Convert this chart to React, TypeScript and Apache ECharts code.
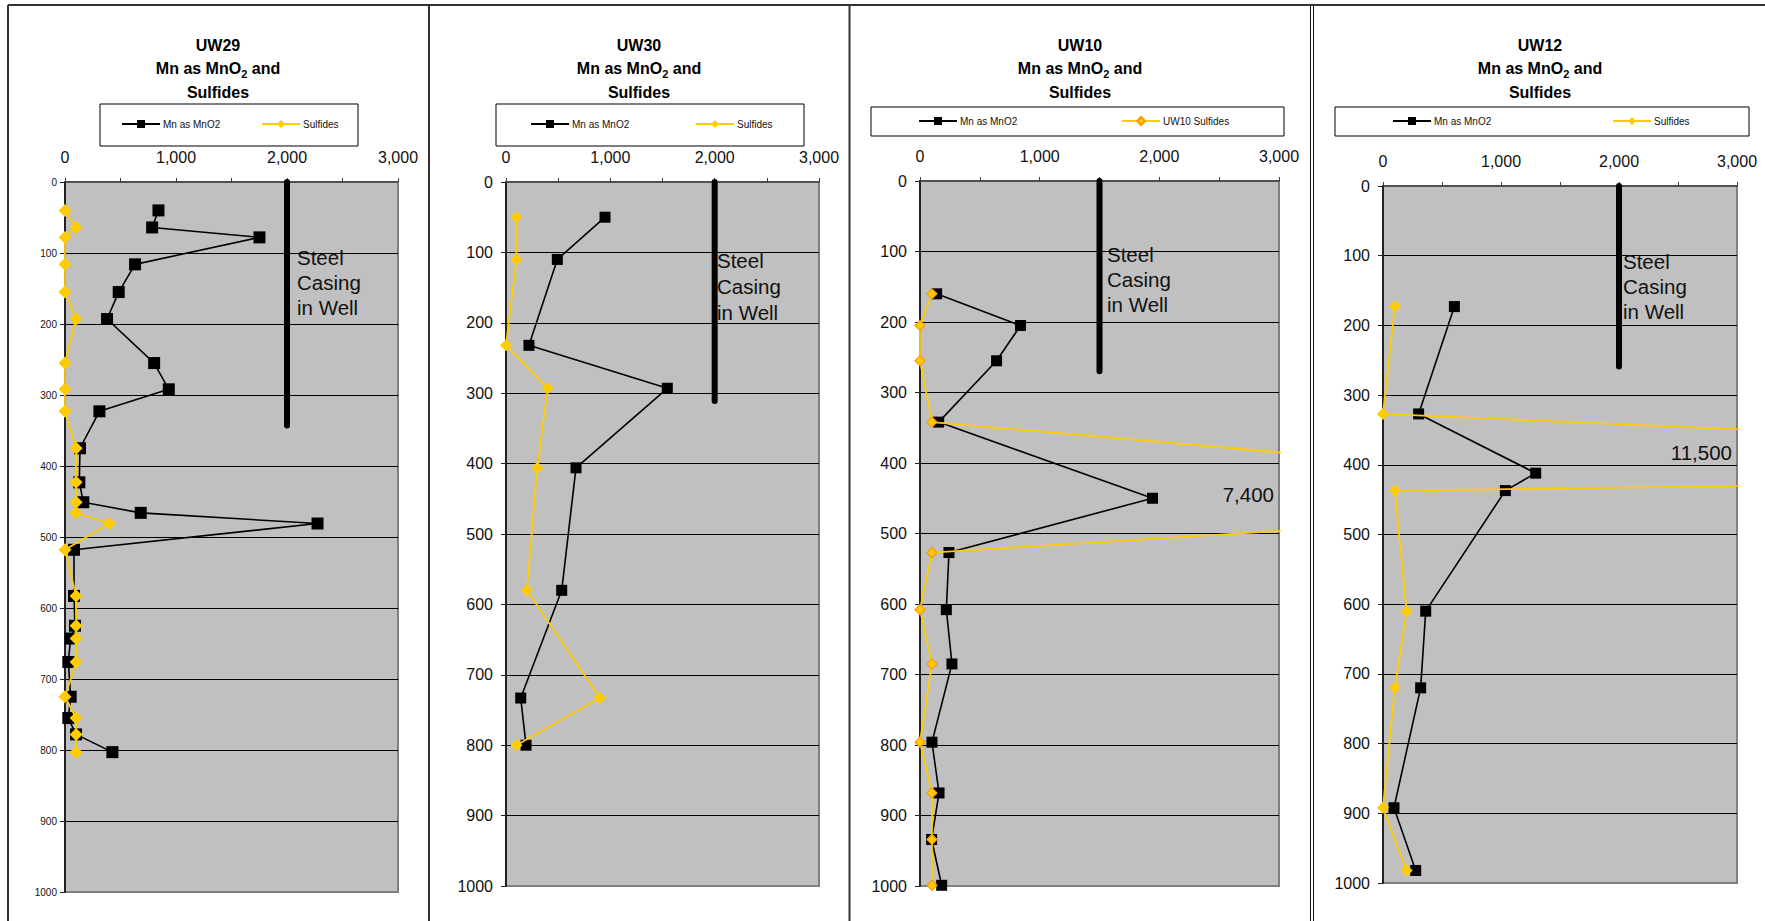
import React, { useEffect, useRef } from 'react';
import * as echarts from 'echarts';

// ---------- DATA ----------
const xTickLabels = ['0', '1,000', '2,000', '3,000'];
const panelTitles = ['UW29', 'UW30', 'UW10', 'UW12'];
const mnName = 'Mn as MnO2';
const sulfNames = ['Sulfides', 'Sulfides', 'UW10 Sulfides', 'Sulfides'];

const uw29Depth = [40, 64, 78, 116, 155, 193, 255, 292, 323, 375, 423, 451, 466, 481, 518, 583, 625, 643, 676, 725, 755, 778, 803];
const uw29Mn = [842, 785, 1752, 631, 484, 379, 803, 935, 310, 135, 129, 165, 682, 2275, 81, 81, 90, 51, 30, 51, 30, 99, 427];
const uw29Sulfides = [0, 100, 0, 0, 0, 100, 0, 0, 0, 100, 100, 100, 100, 400, 0, 100, 100, 100, 100, 0, 100, 100, 100];

const uw30Depth = [50, 110, 232, 293, 406, 580, 733, 800];
const uw30Mn = [949, 492, 220, 1546, 671, 534, 141, 192];
const uw30Sulfides = [100, 100, 0, 400, 300, 200, 900, 100];

const uw10Depth = [160, 205, 255, 342, 450, 527, 608, 685, 796, 868, 934, 999];
const uw10Mn = [139, 840, 640, 156, 1943, 242, 220, 267, 100, 159, 97, 181];
const uw10Sulfides = [100, 0, 0, 100, 7400, 100, 0, 100, 0, 100, 100, 100];

const uw12Depth = [173, 327, 412, 437, 610, 720, 892, 982];
const uw12Mn = [605, 302, 1294, 1037, 362, 319, 93, 277];
const uw12Sulfides = [100, 0, 11500, 100, 200, 100, 0, 200];

const casingValue = [2000, 2000, 1500, 2000];
const casingBottom = [343, 311, 270, 259];

const peakLabels = ['', '', '7,400', '11,500'];

// ---------- LAYOUT ----------
const FONT = '"Liberation Sans", Arial, Helvetica, sans-serif';

const layouts = [
  { grid: { left: 65, top: 182, width: 333, height: 710 }, titleX: 218, box: [100, 104, 258, 42], legY: 124, mnX: 121, sulfX: 261, yFont: 10, yMargin: 8, casingText: [297, 245, 25], mnSize: 12, sulfSize: 13, sulfBorder: '#FFCC00', peak: [0, 0] },
  { grid: { left: 506, top: 182, width: 313, height: 704 }, titleX: 639, box: [496, 104, 308, 42], legY: 124, mnX: 530, sulfX: 695, yFont: 16, yMargin: 13, casingText: [717, 247, 26], mnSize: 11, sulfSize: 12, sulfBorder: '#FFCC00', peak: [0, 0] },
  { grid: { left: 920, top: 181, width: 359, height: 705 }, titleX: 1080, box: [871, 107, 413, 29], legY: 121, mnX: 918, sulfX: 1121, yFont: 16, yMargin: 13, casingText: [1107, 242, 25], mnSize: 11, sulfSize: 10, sulfBorder: '#FF9900', peak: [1274, 494] },
  { grid: { left: 1383, top: 186, width: 354, height: 697 }, titleX: 1540, box: [1335, 107, 414, 29], legY: 121, mnX: 1392, sulfX: 1612, yFont: 16, yMargin: 13, casingText: [1623, 249, 25], mnSize: 11, sulfSize: 12, sulfBorder: '#FFCC00', peak: [1732, 452] },
];

const panelData = [
  { depth: uw29Depth, mn: uw29Mn, sulf: uw29Sulfides },
  { depth: uw30Depth, mn: uw30Mn, sulf: uw30Sulfides },
  { depth: uw10Depth, mn: uw10Mn, sulf: uw10Sulfides },
  { depth: uw12Depth, mn: uw12Mn, sulf: uw12Sulfides },
];

function buildOption() {
  const grids: any[] = [];
  const xAxes: any[] = [];
  const yAxes: any[] = [];
  const series: any[] = [];
  const legends: any[] = [];
  const graphics: any[] = [];

  // frame lines
  const frameStyle = { stroke: '#333', lineWidth: 2 };
  graphics.push({ type: 'line', shape: { x1: 8, y1: 5, x2: 1765, y2: 5 }, style: frameStyle, silent: true });
  [8, 429, 849.5].forEach((x) =>
    graphics.push({ type: 'line', shape: { x1: x, y1: 5, x2: x, y2: 921 }, style: frameStyle, silent: true })
  );
  [1310.5, 1313.5].forEach((x) =>
    graphics.push({ type: 'line', shape: { x1: x, y1: 5, x2: x, y2: 921 }, style: { stroke: '#111', lineWidth: 1 }, silent: true })
  );

  layouts.forEach((L, i) => {
    const d = panelData[i];
    grids.push({
      ...L.grid,
      show: true,
      backgroundColor: '#C0C0C0',
      borderColor: '#808080',
      borderWidth: 2,
      containLabel: false,
    });
    xAxes.push({
      type: 'value',
      gridIndex: i,
      position: 'top',
      min: 0,
      max: 3000,
      interval: 500,
      axisLine: { show: true, onZero: false, lineStyle: { color: '#404040', width: 1.5 } },
      axisTick: { show: true, inside: false, length: 4, lineStyle: { color: '#404040', width: 1 } },
      axisLabel: {
        margin: 17,
        fontSize: 16,
        fontFamily: FONT,
        color: '#111',
        formatter: (v: number) => (v % 1000 === 0 ? xTickLabels[v / 1000] : ''),
      },
      splitLine: { show: false },
    });
    yAxes.push({
      type: 'value',
      gridIndex: i,
      inverse: true,
      min: 0,
      max: 1000,
      interval: 100,
      axisLine: { show: true, onZero: false, lineStyle: { color: '#222', width: 2 } },
      axisTick: { show: true, inside: false, length: 5, lineStyle: { color: '#222', width: 1 } },
      axisLabel: {
        margin: L.yMargin,
        fontSize: L.yFont,
        fontFamily: FONT,
        color: '#111',
        formatter: (v: number) => String(v),
      },
      splitLine: { show: true, showMinLine: false, showMaxLine: false, lineStyle: { color: '#000', width: 1 } },
    });

    // steel casing
    series.push({
      name: 'casing' + i,
      type: 'line',
      xAxisIndex: i,
      yAxisIndex: i,
      data: [
        [casingValue[i], 0],
        [casingValue[i], casingBottom[i]],
      ],
      symbol: 'none',
      lineStyle: { color: '#000', width: 6, cap: 'round' },
      z: 2,
      silent: true,
    });
    series.push({
      name: mnName,
      type: 'line',
      xAxisIndex: i,
      yAxisIndex: i,
      data: d.mn.map((v, k) => [v, d.depth[k]]),
      symbol: 'rect',
      symbolSize: L.mnSize,
      itemStyle: { color: '#000' },
      lineStyle: { color: '#000', width: 1.6 },
      clip: true,
      z: 3,
    });
    series.push({
      name: sulfNames[i],
      type: 'line',
      xAxisIndex: i,
      yAxisIndex: i,
      data: d.sulf.map((v, k) => [v, d.depth[k]]),
      symbol: 'diamond',
      symbolSize: L.sulfSize,
      itemStyle: { color: '#FFCC00', borderColor: L.sulfBorder, borderWidth: L.sulfBorder === '#FFCC00' ? 0 : 1.2 },
      lineStyle: { color: '#FFCC00', width: 1.8 },
      clip: true,
      z: 4,
    });

    // legend box
    graphics.push({
      type: 'rect',
      shape: { x: L.box[0], y: L.box[1], width: L.box[2], height: L.box[3] },
      style: { fill: '#fff', stroke: '#000', lineWidth: 1 },
      z: 0,
      silent: true,
    });
    const legBase = {
      orient: 'horizontal',
      padding: 0,
      itemWidth: 38,
      itemHeight: 10,
      itemGap: 0,
      selectedMode: false,
      top: L.legY - 5,
      textStyle: { fontSize: 10, fontFamily: FONT, color: '#111', lineHeight: 10, padding: [0, 0, 0, -2] },
    };
    legends.push({ ...legBase, left: L.mnX, data: [mnName] });
    legends.push({ ...legBase, left: L.sulfX, data: [sulfNames[i]] });

    // titles
    const tStyle = { fontSize: 16, fontWeight: 'bold', fontFamily: FONT, fill: '#000' };
    graphics.push({
      type: 'text',
      x: L.titleX,
      y: 45,
      style: { ...tStyle, text: panelTitles[i], textAlign: 'center', align: 'center', textVerticalAlign: 'middle', verticalAlign: 'middle' },
      silent: true,
    });
    graphics.push({
      type: 'text',
      x: L.titleX,
      y: 68,
      style: {
        text: '{a|Mn as MnO}{b|2}{a| and}',
        textAlign: 'center',
        align: 'center',
        textVerticalAlign: 'middle',
        verticalAlign: 'middle',
        rich: {
          a: { fontSize: 16, fontWeight: 'bold', fontFamily: FONT, fill: '#000', color: '#000', lineHeight: 22 },
          b: { fontSize: 11, fontWeight: 'bold', fontFamily: FONT, fill: '#000', color: '#000', lineHeight: 14, verticalAlign: 'bottom' },
        },
      },
      silent: true,
    });
    graphics.push({
      type: 'text',
      x: L.titleX,
      y: 92,
      style: { ...tStyle, text: 'Sulfides', textAlign: 'center', align: 'center', textVerticalAlign: 'middle', verticalAlign: 'middle' },
      silent: true,
    });

    // casing label
    graphics.push({
      type: 'text',
      x: L.casingText[0],
      y: L.casingText[1],
      style: {
        text: 'Steel\nCasing\nin Well',
        fontSize: 20.5,
        fontFamily: FONT,
        fill: '#111',
        lineHeight: L.casingText[2],
        textAlign: 'left',
        align: 'left',
        textVerticalAlign: 'top',
        verticalAlign: 'top',
      },
      z: 10,
      silent: true,
    });

    if (peakLabels[i]) {
      graphics.push({
        type: 'text',
        x: L.peak[0],
        y: L.peak[1],
        style: {
          text: peakLabels[i],
          fontSize: 20.5,
          fontFamily: FONT,
          fill: '#111',
          textAlign: 'right',
          align: 'right',
          textVerticalAlign: 'middle',
          verticalAlign: 'middle',
        },
        z: 10,
        silent: true,
      });
    }
  });

  return {
    animation: false,
    backgroundColor: '#fff',
    grid: grids,
    xAxis: xAxes,
    yAxis: yAxes,
    legend: legends,
    series,
    graphic: { elements: graphics },
  };
}

export default function App() {
  const ref = useRef<HTMLDivElement>(null);
  useEffect(() => {
    if (!ref.current) return;
    const chart = echarts.init(ref.current, null, { renderer: 'svg' });
    chart.setOption(buildOption() as any);
    return () => chart.dispose();
  }, []);
  return (
    <div
      ref={ref}
      style={{ position: 'absolute', left: 0, top: 0, width: 1765, height: 921, background: '#fff' }}
    />
  );
}
